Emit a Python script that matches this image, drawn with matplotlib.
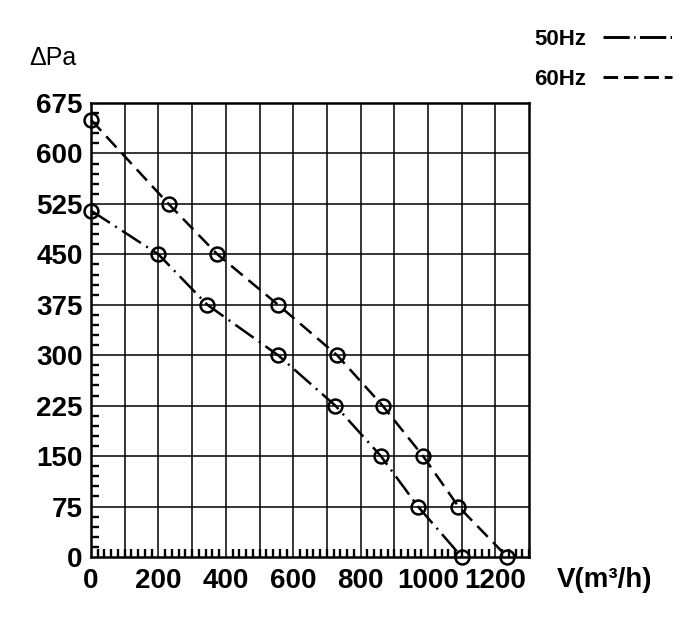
import matplotlib
matplotlib.use("Agg")
import matplotlib.pyplot as plt
from matplotlib.lines import Line2D
from matplotlib.ticker import MultipleLocator

# curve data
flow_50 = [0, 200, 345, 555, 725, 860, 970, 1100]
pres_50 = [515, 450, 375, 300, 225, 150, 75, 0]
flow_60 = [0, 230, 375, 555, 730, 865, 985, 1090, 1235]
pres_60 = [650, 525, 450, 375, 300, 225, 150, 75, 0]

x_ticks = [0, 200, 400, 600, 800, 1000, 1200]
y_ticks = [0, 75, 150, 225, 300, 375, 450, 525, 600, 675]

plt.rcParams['font.family'] = ['Liberation Sans', 'DejaVu Sans']

fig = plt.figure(figsize=(7, 6.19), dpi=100)
ax = fig.add_axes([0.13, 0.1002, 0.626, 0.7334])

style_50 = (0, (9, 2.5, 0.8, 2.5))
style_60 = (0, (6, 3))

ax.plot(flow_50, pres_50, color='black', lw=1.8, linestyle=style_50,
        marker='o', ms=10, mfc='none', mec='black', mew=1.8, clip_on=False, zorder=3)
ax.plot(flow_60, pres_60, color='black', lw=1.8, linestyle=style_60,
        marker='o', ms=10, mfc='none', mec='black', mew=1.8, clip_on=False, zorder=3)

ax.set_xlim(0, 1300)
ax.set_ylim(0, 675)
ax.set_xticks(x_ticks)
ax.set_yticks(y_ticks)
ax.xaxis.set_minor_locator(MultipleLocator(20))
ax.yaxis.set_minor_locator(MultipleLocator(15))

# grid every 100 on x, every 75 on y
for gx in range(100, 1300, 100):
    ax.axvline(gx, color='black', lw=1.1, zorder=1)
for gy in y_ticks[1:-1]:
    ax.axhline(gy, color='black', lw=1.1, zorder=1)

for s in ax.spines.values():
    s.set_linewidth(1.8)

ax.tick_params(which='major', length=0, labelsize=20)
ax.tick_params(axis='y', which='major', pad=6)
ax.tick_params(axis='x', which='major', pad=8)
ax.tick_params(which='minor', direction='in', length=5.5, width=1.7)
for lbl in ax.get_xticklabels() + ax.get_yticklabels():
    lbl.set_fontweight('bold')

fig.text(29 / 700, 1 - 58 / 619, '\u0394Pa', fontsize=18, ha='left', va='center')
fig.text(557 / 700, 1 - 580 / 619, 'V(m\u00b3/h)', fontsize=20, fontweight='bold',
         ha='left', va='center')

handles = [Line2D([], [], color='black', lw=2.1, linestyle=(0, (9, 1.5, 0.5, 1.5))),
           Line2D([], [], color='black', lw=2.1, linestyle=(0, (5, 2)))]
fig.legend(handles, ['50Hz', '60Hz'], loc='upper right',
           bbox_to_anchor=(672 / 700, 1 - 29 / 619), borderpad=0, borderaxespad=0,
           frameon=False, markerfirst=False, handlelength=3.1,
           handletextpad=0.75, labelspacing=0.85,
           prop={'size': 16, 'weight': 'bold'})

fig.savefig('out.png', dpi=100)
